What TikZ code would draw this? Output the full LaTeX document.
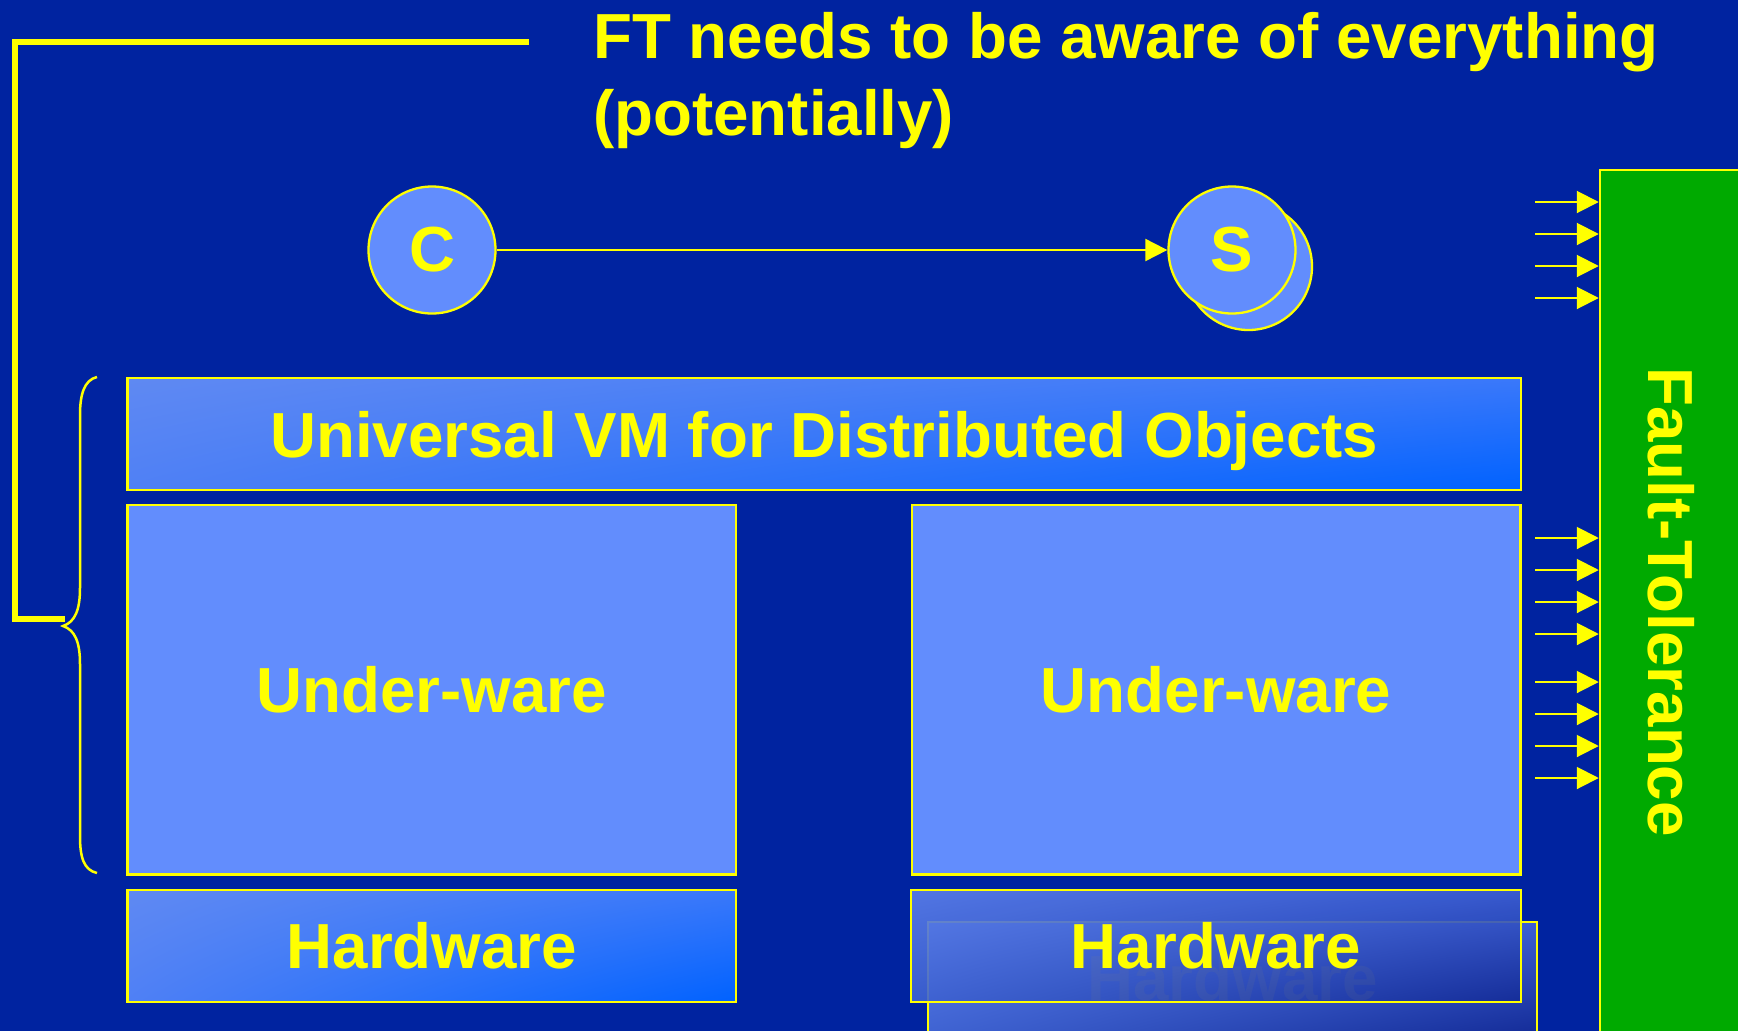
\documentclass[tikz,border=0pt]{standalone}
\usepackage{fontspec}
\setmainfont{Liberation Sans}
\usetikzlibrary{arrows.meta,shadings}

\definecolor{bg}{HTML}{0023A0}
\definecolor{ftyellow}{HTML}{FFFF00}
\definecolor{layerblue}{HTML}{628DFD}
\definecolor{ftgreen}{HTML}{00AA00}
% gradient stops of the bright layers
\definecolor{brUL}{RGB}{95,137,242}
\definecolor{brUR}{RGB}{58,120,250}
\definecolor{brLL}{RGB}{79,128,245}
\definecolor{brLR}{RGB}{0,98,255}
% gradient stops of the dark layers
\definecolor{dkUL}{RGB}{91,127,234}
\definecolor{dkUR}{RGB}{62,96,212}
\definecolor{dkLL}{RGB}{63,99,210}
\definecolor{dkLR}{RGB}{20,44,152}
\definecolor{ghost}{RGB}{150,150,120}

\begin{document}
\begin{tikzpicture}[x=1pt,y=-1pt,
  every node/.style={font=\fontsize{63.7}{76.4}\selectfont\bfseries,
                     text=ftyellow, inner sep=0pt},
  objcircle/.style={circle, minimum size=127pt, fill=layerblue,
                    draw=ftyellow, line width=2.3pt},
  layer/.style={rectangle, draw=ftyellow, line width=2.5pt},
  plainlayer/.style={layer, fill=layerblue},
  brightlayer/.style={layer, upper left=brUL, upper right=brUR,
                      lower left=brLL, lower right=brLR},
  darklayer/.style={layer, upper left=dkUL, upper right=dkUR,
                    lower left=dkLL, lower right=dkLR},
  ftbox/.style={rectangle, fill=ftgreen, draw=ftyellow, line width=2.5pt},
  conn/.style={draw=ftyellow, line width=2pt,
               -{Triangle[length=22pt,width=22pt]}},
  bracket/.style={draw=ftyellow, line width=6pt, line join=miter},
  bracecurve/.style={draw=ftyellow, line width=2.5pt}
]
\useasboundingbox (0,0) rectangle (1738,1031);
\clip (0,0) rectangle (1738,1031);
\fill[bg] (0,0) rectangle (1738,1031);

% heading (base anchor sits on the last line)
\node[anchor=base west, align=left] (title) at (593,135)
  {FT needs to be aware of everything\\(potentially)};

% client and (replicated) server objects
\node[objcircle] (C) at (432,250) {C};
\node[objcircle] (Sback) at (1248.5,266.5) {};
\node[objcircle] (S) at (1232,250) {S};
\draw[conn] (C) -- (S);

% platform layers
\node[brightlayer, minimum width=1393.5pt, minimum height=112pt, text depth=0pt]
  (uvm) at (824.25,434) {Universal VM for Distributed Objects};
\node[plainlayer, minimum width=608.5pt, minimum height=369.5pt]
  (uwL) at (431.75,689.75) {Under-ware};
\node[plainlayer, minimum width=608.5pt, minimum height=369.5pt]
  (uwR) at (1216,689.75) {Under-ware};
\node[brightlayer, minimum width=608.5pt, minimum height=112pt]
  (hwL) at (431.75,946) {Hardware};
\node[darklayer, minimum width=609pt, minimum height=112pt, text=ghost]
  (hwRback) at (1232.5,978) {Hardware};
\node[darklayer, fill opacity=0.9, draw opacity=1, text opacity=1,
      minimum width=610pt, minimum height=112pt]
  (hwR) at (1216,946) {Hardware};

% fault-tolerance column
\node[ftbox, minimum width=143pt, minimum height=864pt] (ft) at (1671.5,602) {};
\node[rotate=-90] (ftlabel) at (ft.center) {Fault-Tolerance};

\foreach \yy [count=\i] in {202,234,266,298,538,570,602,634,682,714,746,778} {
  \coordinate (in\i) at (1535,\yy);
  \draw[conn] (in\i) -- (in\i -| ft.west);
}

% brace grouping the VM and under-ware layers
\coordinate (bracetop) at (97,377);
\coordinate (bracetip) at (63,626);
\coordinate (bracebot) at (97,873);
\draw[bracecurve] (bracetop) .. controls (84,380) and (80,395) .. (80,415)
  -- (80,588) .. controls (80,610) and (75,622) .. (bracetip)
  .. controls (75,630) and (80,642) .. (80,664)
  -- (80,836) .. controls (80,858) and (84,870) .. (bracebot);

% bracket joining the heading to the brace
\coordinate (brstart) at (529,42);
\coordinate (brcorner1) at (15,42);
\coordinate (brcorner2) at (15,619);
\coordinate (brend) at (65,619);
\draw[bracket] (brstart) -- (brcorner1) -- (brcorner2) -- (brend);
\end{tikzpicture}
\end{document}
